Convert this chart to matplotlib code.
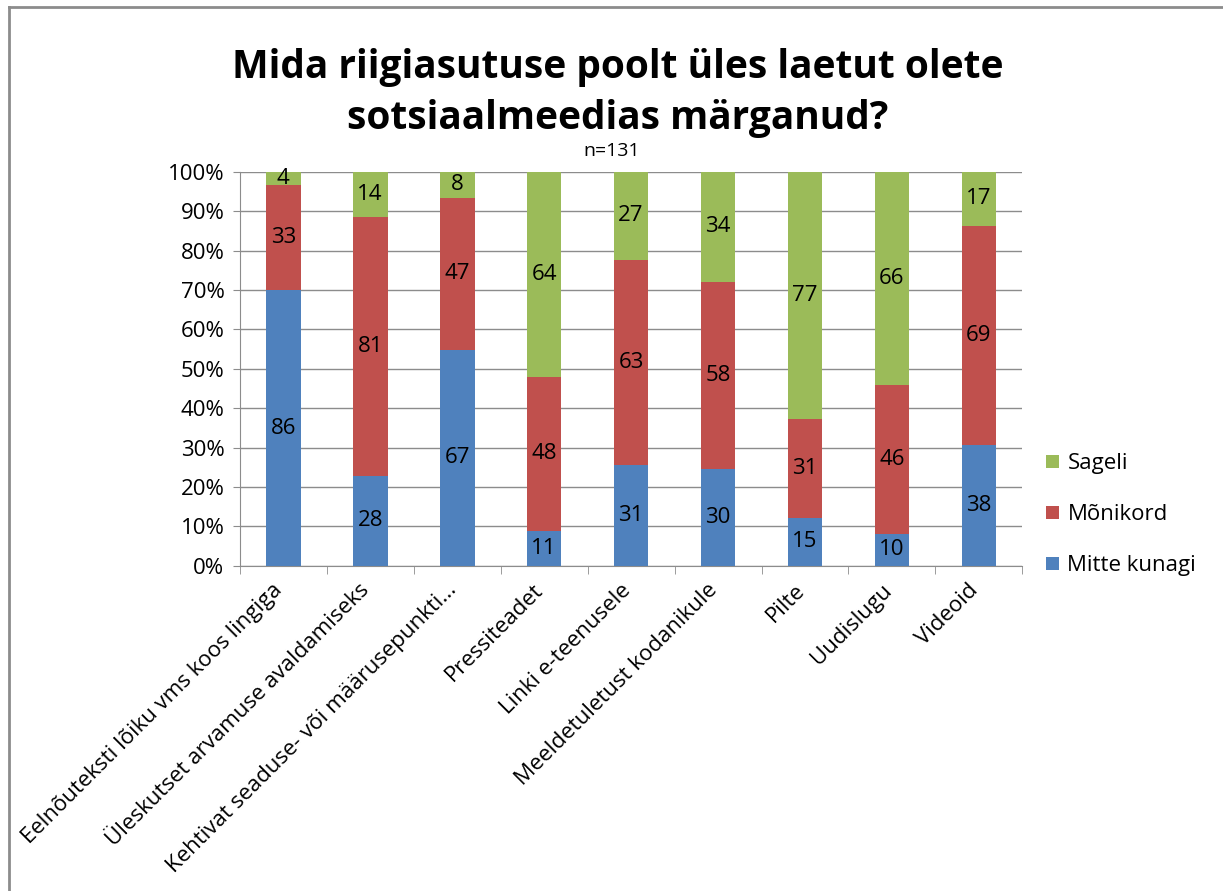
import numpy as np
import matplotlib
matplotlib.use('Agg')
import matplotlib.pyplot as plt
from matplotlib.lines import Line2D
from matplotlib.transforms import ScaledTranslation

plt.rcParams['font.family'] = ['Open Sans', 'DejaVu Sans']

# Data (counts; bars are shown as % of total)
categories = ['Eelnõuteksti lõiku vms koos lingiga',
              'Üleskutset arvamuse avaldamiseks',
              'Kehtivat seaduse- või määrusepunkti...',
              'Pressiteadet',
              'Linki e-teenusele',
              'Meeldetuletust kodanikule',
              'Pilte',
              'Uudislugu',
              'Videoid']
mitte_kunagi = [86, 28, 67, 11, 31, 30, 15, 10, 38]
monikord = [33, 81, 47, 48, 63, 58, 31, 46, 69]
sageli = [4, 14, 8, 64, 27, 34, 77, 66, 17]

series = [('Mitte kunagi', mitte_kunagi, '#4F81BD'),
          ('Mõnikord', monikord, '#C0504D'),
          ('Sageli', sageli, '#9BBB59')]

totals = np.array(mitte_kunagi) + np.array(monikord) + np.array(sageli)
x = np.arange(len(categories))

fig = plt.figure(figsize=(12.23, 8.91), dpi=100)
ax = fig.add_axes([0.196, 0.365, 0.64, 0.442])

bottom = np.zeros(len(categories))
handles = []
for name, vals, color in series:
    share = np.array(vals) / totals * 100
    b = ax.bar(x, share, width=0.4, bottom=bottom, color=color, label=name, zorder=3)
    handles.append(b)
    for xi, bi, si, v in zip(x, bottom, share, vals):
        ax.text(xi, bi + si / 2, str(v), ha='center', va='center', fontsize=16, zorder=4)
    bottom += share

ax.set_xlim(-0.5, len(categories) - 0.5)
ax.set_ylim(0, 100)
ax.set_yticks(np.arange(0, 101, 10))
ax.set_yticklabels([f'{v}%' for v in range(0, 101, 10)], fontsize=16)
ax.yaxis.grid(True, color='#8c8c8c', linewidth=1, zorder=0)

ax.set_xticks(x)
ax.set_xticklabels(categories, rotation=45, ha='right', rotation_mode='anchor', fontsize=16)
ax.tick_params(axis='x', length=0, pad=10)
shift = ScaledTranslation(-8 / 72, 0, fig.dpi_scale_trans)
for lbl in ax.get_xticklabels():
    lbl.set_transform(lbl.get_transform() + shift)
ax.set_xticks(np.arange(-0.5, len(categories), 1), minor=True)
ax.tick_params(axis='x', which='minor', length=6, color='#8c8c8c', direction='out')
ax.tick_params(axis='y', length=5, color='#8c8c8c', direction='out', pad=6)

for side in ['top', 'right']:
    ax.spines[side].set_visible(False)
for side in ['left', 'bottom']:
    ax.spines[side].set_color('#8c8c8c')

leg = ax.legend(handles[::-1], [s[0] for s in series][::-1], loc='center left',
                bbox_to_anchor=(1.005, 0.13), frameon=False, fontsize=16,
                handlelength=0.55, handleheight=0.55, handletextpad=0.4, labelspacing=1.35)

fig.text(0.505, 0.896, 'Mida riigiasutuse poolt üles laetut olete\nsotsiaalmeedias märganud?',
         ha='center', va='center', fontsize=28, fontweight='bold', linespacing=1.4)
fig.text(0.5, 0.831, 'n=131', ha='center', va='center', fontsize=14)

# chart frame (only top and left edges are visible in the reference)
fig.add_artist(Line2D([0.007, 1.0], [0.992, 0.992], transform=fig.transFigure,
                      color='#8c8c8c', linewidth=2))
fig.add_artist(Line2D([0.007, 0.007], [0.0, 0.992], transform=fig.transFigure,
                      color='#8c8c8c', linewidth=2))

fig.savefig('out.png', dpi=100)
